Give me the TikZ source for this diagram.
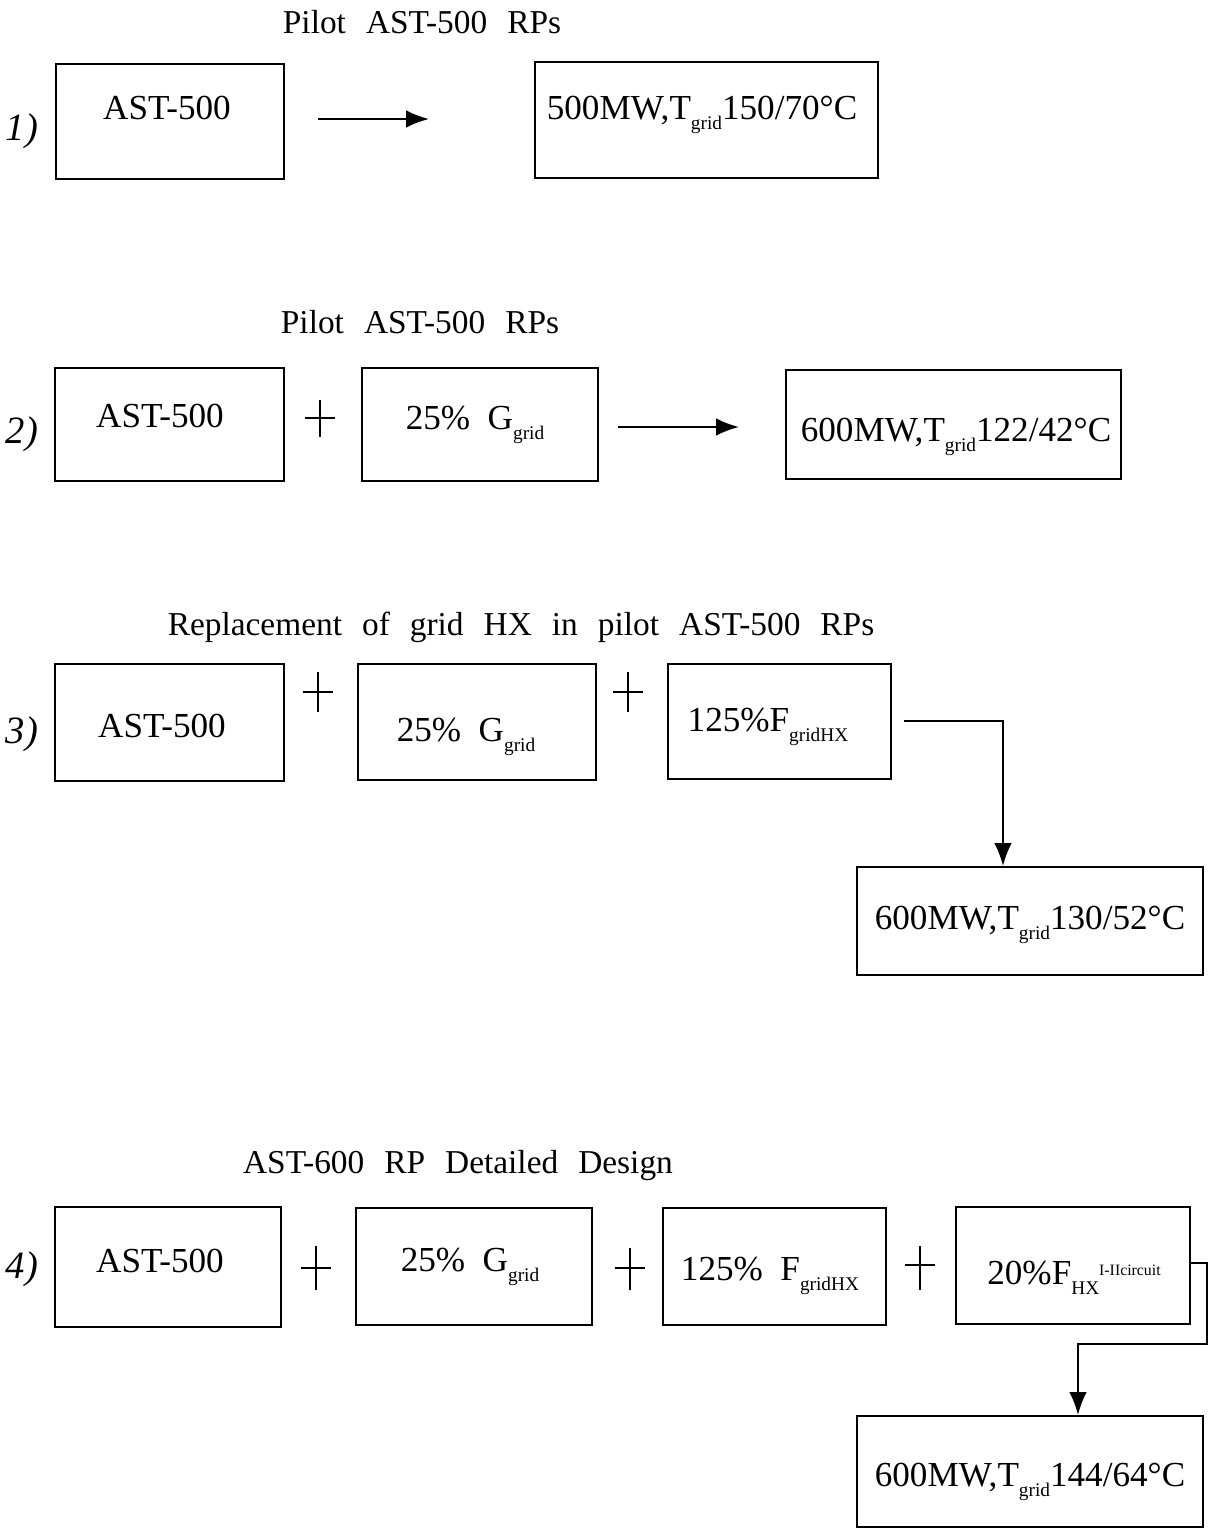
\documentclass[tikz,border=0pt]{standalone}
\usepackage{fontspec}
\setmainfont{Liberation Serif}
\newfontfamily\ttlfont{Liberation Serif}[WordSpace=2.4]
\usetikzlibrary{arrows.meta,fit,calc}
\newcommand{\sbs}[1]{\raisebox{-6pt}{\fontsize{11}{11}\selectfont #1}}
\newcommand{\sps}[1]{\raisebox{5pt}{\fontsize{9}{9}\selectfont #1}}
\newcommand{\plusmark}[4]{\draw[pl] (#1,#2) -- (#1,#3); \draw[pl] (#1-15,#4) -- (#1+15,#4);}
\begin{document}
\begin{tikzpicture}[x=0.02cm,y=-0.02cm,
 box/.style={draw, line width=1.2pt, inner sep=0pt},
 txt/.style={font=\fontsize{20}{24}\selectfont, anchor=base, inner sep=0pt},
 ttl/.style={font=\ttlfont\fontsize{19}{23}\selectfont, anchor=base, inner sep=0pt},
 num/.style={font=\itshape\fontsize{22}{26}\selectfont, anchor=base, inner sep=0pt},
 conn/.style={line width=1.1pt, -{Latex[length=13pt,width=10pt]}},
 pl/.style={line width=0.9pt}
]
\fill[white] (0,0) rectangle (1209,1529);
\useasboundingbox (0,0) rectangle (1209,1529);

% Row 1
\node[ttl] (t1) at (422,33) {Pilot AST-500 RPs};
\node[num] (n1) at (22,140) {1)};
\node[box, fit={(56,64) (284,179)}] (a1) {};
\node[box, fit={(535,62) (878,178)}] (r1) {};
\node[txt] (a1t) at (167,119) {AST-500};
\node[txt] (r1t) at (702,119) {500MW,T\sbs{grid}150/70°C};
\draw[conn] ($(a1.east |- 0,119)+(33,0)$) -- ($(r1.west |- 0,119)+(-105,0)$);

% Row 2
\node[ttl] (t2) at (420,333) {Pilot AST-500 RPs};
\node[num] (n2) at (22,443) {2)};
\node[box, fit={(55,368) (284,481)}] (a2) {};
\node[box, fit={(362,368) (598,481)}] (g2) {};
\node[box, fit={(786,370) (1121,479)}] (r2) {};
\node[txt] (a2t) at (160,427) {AST-500};
\node[txt] (g2t) at (475,429) {25\%\ \ G\sbs{grid}};
\node[txt] (r2t) at (956,441) {600MW,T\sbs{grid}122/42°C};
\plusmark{320}{400}{437}{418}
\draw[conn] ($(g2.east |- 0,427)+(19,0)$) -- ($(r2.west |- 0,427)+(-46,0)$);

% Row 3
\node[ttl] (t3) at (521,635) {Replacement of grid HX in pilot AST-500 RPs};
\node[num] (n3) at (22,743) {3)};
\node[box, fit={(55,664) (284,781)}] (a3) {};
\node[box, fit={(358,664) (596,780)}] (g3) {};
\node[box, fit={(668,664) (891,779)}] (f3) {};
\node[box, fit={(857,867) (1203,975)}] (r3) {};
\node[txt] (a3t) at (162,737) {AST-500};
\node[txt] (g3t) at (466,741) {25\%\ \ G\sbs{grid}};
\node[txt] (f3t) at (768,731) {125\%F\sbs{gridHX}};
\node[txt] (r3t) at (1030,929) {600MW,T\sbs{grid}130/52°C};
\plusmark{318}{672}{712}{692}
\plusmark{628}{672}{712}{692}
\coordinate (c3) at ($(f3.east |- 0,721)+(12,0)$);
\draw[conn] (c3) -| (r3.north -| 1003,0);

% Row 4
\node[ttl] (t4) at (458,1173) {AST-600 RP Detailed Design};
\node[num] (n4) at (22,1278) {4)};
\node[box, fit={(55,1207) (281,1327)}] (a4) {};
\node[box, fit={(356,1208) (592,1325)}] (g4) {};
\node[box, fit={(663,1208) (886,1325)}] (f4) {};
\node[box, fit={(956,1207) (1190,1324)}] (x4) {};
\node[box, fit={(857,1416) (1203,1527)}] (r4) {};
\node[txt] (a4t) at (160,1272) {AST-500};
\node[txt] (g4t) at (470,1271) {25\%\ \ G\sbs{grid}};
\node[txt] (f4t) at (770,1280) {125\%\ \ F\sbs{gridHX}};
\node[txt] (x4t) at (1074,1284) {20\%F\sbs{HX}\sps{I-IIcircuit}};
\node[txt] (r4t) at (1030,1486) {600MW,T\sbs{grid}144/64°C};
\plusmark{316}{1246}{1290}{1268}
\plusmark{630}{1248}{1290}{1268}
\plusmark{920}{1246}{1290}{1265}
\draw[conn] (x4.east |- 0,1263) -- (1207,1263) -- (1207,1344) -- (1078,1344) -- (r4.north -| 1078,0);
\end{tikzpicture}
\end{document}
